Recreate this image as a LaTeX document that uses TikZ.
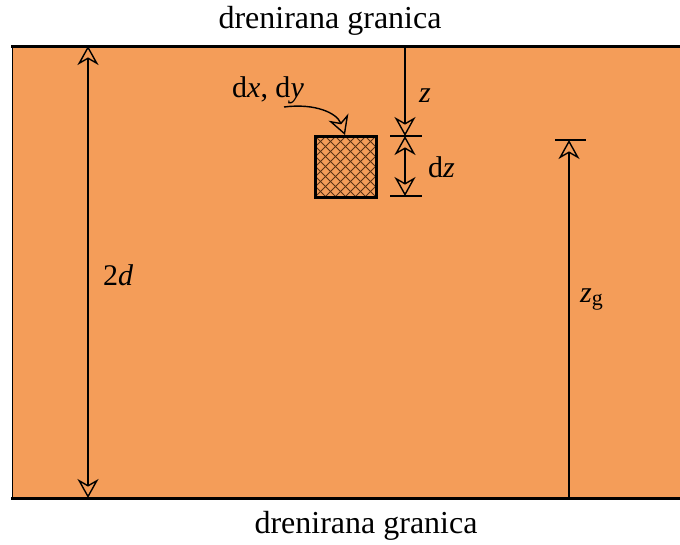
\documentclass[tikz,border=0pt]{standalone}
\usepackage{fontspec}
\setmainfont{Liberation Serif}
\usetikzlibrary{arrows.meta}
\definecolor{soil}{RGB}{244,157,89}
\definecolor{hatch}{RGB}{90,50,20}
\tikzset{
  dim/.style={line width=1.4pt},
  lbl/.style={font=\fontsize{30}{34}\selectfont, inner sep=0pt},
  bnd/.style={font=\fontsize{32}{36}\selectfont, inner sep=0pt},
}
\begin{document}
\begin{tikzpicture}[x=1pt, y=-1pt, >={Stealth[open,length=19pt,width=21pt,inset=6pt]}]
\useasboundingbox (0,0) rectangle (680,544);
\fill[soil] (12,46) rectangle (680,498);
\draw[line width=1pt] (12,46) -- (12,498);
\draw[line width=3pt] (11,46) -- (680,46);
\draw[line width=3pt] (11,498) -- (680,498);
\node[bnd, anchor=base] (gornja) at (330,28) {drenirana granica};
\node[bnd, anchor=base] (donja) at (366,533) {drenirana granica};
\coordinate (d1) at (88,46);
\coordinate (d2) at (88,498);
\draw[dim, <->] (d1) -- (d2);
\node[lbl, anchor=base west] (visina) at (103,285) {2\textit{d}};
\coordinate (z0) at (405,46);
\coordinate (z1) at (405,136);
\coordinate (z2) at (405,196);
\draw[dim, ->] (z0) -- (z1);
\draw[dim, <->] (z1) -- (z2);
\draw[dim] ([xshift=-15pt]z1) -- ([xshift=17pt]z1);
\draw[dim] ([xshift=-15pt]z2) -- ([xshift=17pt]z2);
\node[lbl, anchor=base west] (dubina) at (419,102) {\textit{z}};
\node[lbl, anchor=base west] (dz) at (428,177) {d\textit{z}};
\begin{scope}
\clip (315,136) rectangle (376,197);
\foreach \k in {-60,-50,...,60} {
  \draw[hatch, line width=0.8pt] ({315+\k},136) -- ++(61,61);
  \draw[hatch, line width=0.8pt] ({376-\k},136) -- ++(-61,61);
}
\end{scope}
\draw[line width=3pt] (315,136) rectangle (376,197);
\coordinate (el) at (345,135);
\node[lbl, anchor=base west] (dxdy) at (232,97) {d\textit{x}, d\textit{y}};
\coordinate (c0) at (284,107);
\draw[dim, ->] (c0) .. controls (315,103) and (337,113) .. (el);
\coordinate (g0) at (569,498);
\coordinate (g1) at (569,140);
\draw[dim, ->] (g0) -- (g1);
\draw[dim] ([xshift=-14pt]g1) -- ([xshift=17pt]g1);
\node[lbl, anchor=base west] (zg) at (580,302) {\textit{z}\raisebox{-0.25ex}{\fontsize{22}{24}\selectfont g}};
\end{tikzpicture}
\end{document}
